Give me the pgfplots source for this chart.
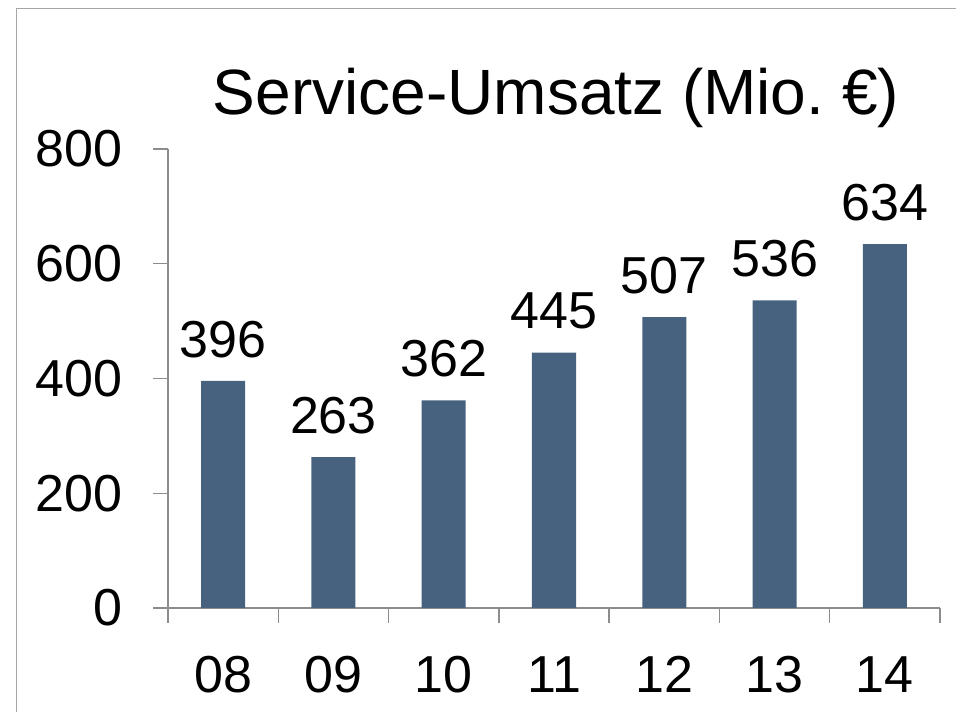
\documentclass[border=0pt]{standalone}
\usepackage{fontspec}
\setmainfont{Liberation Sans}
\usepackage{pgfplots}
\pgfplotsset{compat=1.18}
\definecolor{barblue}{HTML}{46627F}
\definecolor{axgray}{HTML}{8C8C8C}
\definecolor{framegray}{HTML}{A6A6A6}
\begin{document}
\begin{tikzpicture}[x=1pt,y=1pt]
\path[use as bounding box] (0,0) rectangle (956,712);
\draw[framegray, line width=1.6pt] (16.5,0) -- (16.5,703.5) -- (956,703.5);
\node[anchor=base, inner sep=0pt, font=\fontsize{64}{70}\selectfont] at (556,597) {Service-Umsatz (Mio.~€)};
\begin{axis}[
  at={(168pt,104pt)}, anchor=south west,
  scale only axis, width=772pt, height=459pt,
  xmin=-0.5, xmax=6.5, ymin=0, ymax=800,
  axis x line*=bottom, axis y line*=left,
  axis line style={axgray, line width=1.4pt},
  every tick/.style={axgray, line width=1.4pt},
  ytick={0,200,400,600,800},
  xtick={-0.5,0.5,1.5,2.5,3.5,4.5,5.5,6.5},
  xticklabels={08,09,10,11,12,13,14},
  x tick label as interval,
  major tick length=15pt, tick align=outside,
  /pgf/number format/assume math mode=true,
  tick label style={font=\fontsize{52}{58}\selectfont, text=black},
  yticklabel style={xshift=-27pt},
  xticklabel style={yshift=-30pt},
  ybar, bar width=44pt,
  nodes near coords,
  every node near coord/.style={font=\fontsize{52}{58}\selectfont, anchor=south, inner sep=0pt, yshift=23pt, text=black},
  clip=false,
]
\addplot[fill=barblue, draw=none] coordinates {(0,396) (1,263) (2,362) (3,445) (4,507) (5,536) (6,634)};
\end{axis}
\end{tikzpicture}
\end{document}
